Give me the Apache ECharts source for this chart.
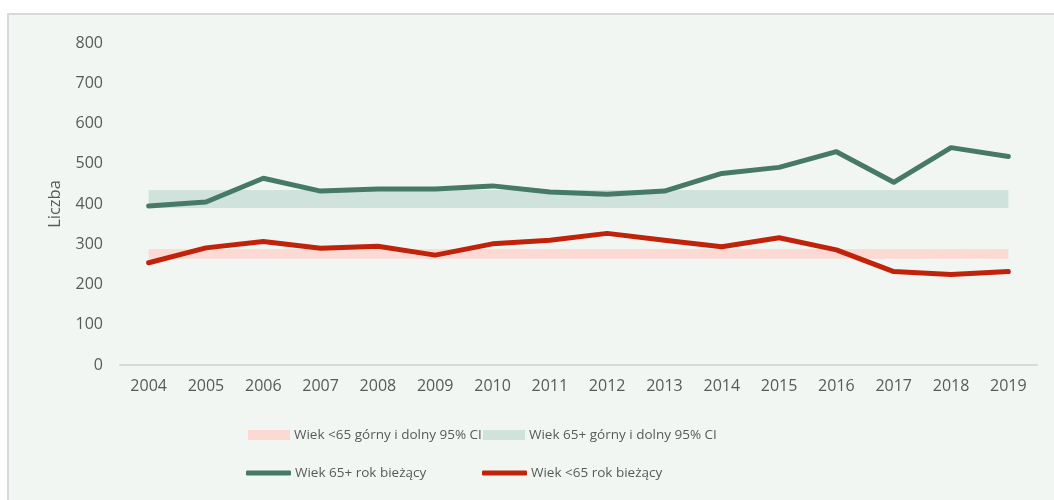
<!DOCTYPE html>
<html>
<head>
<meta charset="utf-8">
<script src="https://cdn.jsdelivr.net/npm/echarts@6/dist/echarts.min.js"></script>
<style>
  html, body { margin: 0; padding: 0; background: #ffffff; }
  #chart { width: 1054px; height: 500px; }
</style>
</head>
<body>
<div id="chart"></div>
<script>
// lata
var years = ['2004', '2005', '2006', '2007', '2008', '2009', '2010', '2011',
             '2012', '2013', '2014', '2015', '2016', '2017', '2018', '2019'];

// rok bieżący
var age65plus = [395, 405, 464, 432, 437, 437, 445, 430, 424, 432, 476, 491, 530, 454, 540, 518];
var ageUnder65 = [254, 291, 307, 290, 295, 273, 301, 310, 327, 310, 294, 316, 286, 232, 225, 232];

// przedziały 95% CI (dolny / górny)
var ci65Lower = [390, 390, 390, 390, 390, 390, 390, 390, 390, 390, 390, 390, 390, 390, 390, 390];
var ci65Upper = [435, 435, 435, 435, 435, 435, 435, 435, 435, 435, 435, 435, 435, 435, 435, 435];
var ciU65Lower = [264, 264, 264, 264, 264, 264, 264, 264, 264, 264, 264, 264, 264, 264, 264, 264];
var ciU65Upper = [288, 288, 288, 288, 288, 288, 288, 288, 288, 288, 288, 288, 288, 288, 288, 288];

var yTicks = [0, 100, 200, 300, 400, 500, 600, 700, 800];

var names = {
    bandU65: 'Wiek <65 górny i dolny 95% CI',
    band65: 'Wiek 65+ górny i dolny 95% CI',
    line65: 'Wiek 65+ rok bieżący',
    lineU65: 'Wiek <65 rok bieżący'
};

var colGreen = '#467a67';
var colRed = '#c0230a';
var colBandGreen = '#cfe2db';
var colBandRed = '#fdd9d3';
var textCol = '#595959';
var font = 'Open Sans';

function diff(up, lo) {
    var out = [];
    for (var i = 0; i < up.length; i++) out.push(up[i] - lo[i]);
    return out;
}

function baseSeries(stack, data) {
    return {
        name: '_' + stack,
        type: 'line',
        stack: stack,
        data: data,
        symbol: 'none',
        silent: true,
        lineStyle: { opacity: 0 },
        z: 1
    };
}

function bandSeries(name, stack, data, color) {
    return {
        name: name,
        type: 'line',
        stack: stack,
        data: data,
        symbol: 'none',
        silent: true,
        itemStyle: { color: color },
        lineStyle: { opacity: 0 },
        areaStyle: { color: color, opacity: 1 },
        z: 1
    };
}

function lineSeries(name, data, color) {
    return {
        name: name,
        type: 'line',
        data: data,
        symbol: 'none',
        itemStyle: { color: color },
        lineStyle: { color: color, width: 5, cap: 'round', join: 'round' },
        z: 3
    };
}

function legendItem(name, left, top, icon, w, h) {
    return {
        data: [{ name: name, icon: icon }],
        left: left,
        top: top,
        itemWidth: w,
        itemHeight: h,
        itemGap: 0,
        selectedMode: false,
        textStyle: { color: textCol, fontSize: 13.5, fontFamily: font, padding: [0, 0, 0, -1] }
    };
}

var myChart = echarts.init(document.getElementById('chart'));
myChart.setOption({
    animation: false,
    backgroundColor: '#ffffff',
    graphic: {
        elements: [{
            type: 'rect',
            z: -10,
            shape: { x: 8, y: 14, width: 1060, height: 500 },
            style: { fill: '#f2f6f2', stroke: '#d9d9d9', lineWidth: 2 }
        }]
    },
    grid: { left: 120, right: 17, top: 43, bottom: 135 },
    legend: [
        legendItem(names.bandU65, 243, 423, 'rect', 42, 10),
        legendItem(names.band65, 478, 423, 'rect', 42, 10),
        legendItem(names.line65, 241, 461, 'roundRect', 45, 5),
        legendItem(names.lineU65, 477, 461, 'roundRect', 45, 5)
    ],
    tooltip: { show: false },
    xAxis: {
        type: 'category',
        data: years,
        boundaryGap: true,
        axisLine: { lineStyle: { color: '#d9d9d9', width: 2 } },
        axisTick: { show: false },
        axisLabel: { color: textCol, fontSize: 16, fontFamily: font, margin: 13 }
    },
    yAxis: {
        type: 'value',
        min: yTicks[0],
        max: yTicks[yTicks.length - 1],
        interval: 100,
        name: 'Liczba',
        nameLocation: 'middle',
        nameGap: 56,
        nameTextStyle: { color: textCol, fontSize: 16.5, fontFamily: font },
        axisLine: { show: false },
        axisTick: { show: false },
        splitLine: { show: false },
        axisLabel: { color: textCol, fontSize: 16, fontFamily: font, margin: 17 }
    },
    series: [
        baseSeries('u65', ciU65Lower),
        bandSeries(names.bandU65, 'u65', diff(ciU65Upper, ciU65Lower), colBandRed),
        baseSeries('o65', ci65Lower),
        bandSeries(names.band65, 'o65', diff(ci65Upper, ci65Lower), colBandGreen),
        lineSeries(names.line65, age65plus, colGreen),
        lineSeries(names.lineU65, ageUnder65, colRed)
    ]
});
</script>
</body>
</html>
